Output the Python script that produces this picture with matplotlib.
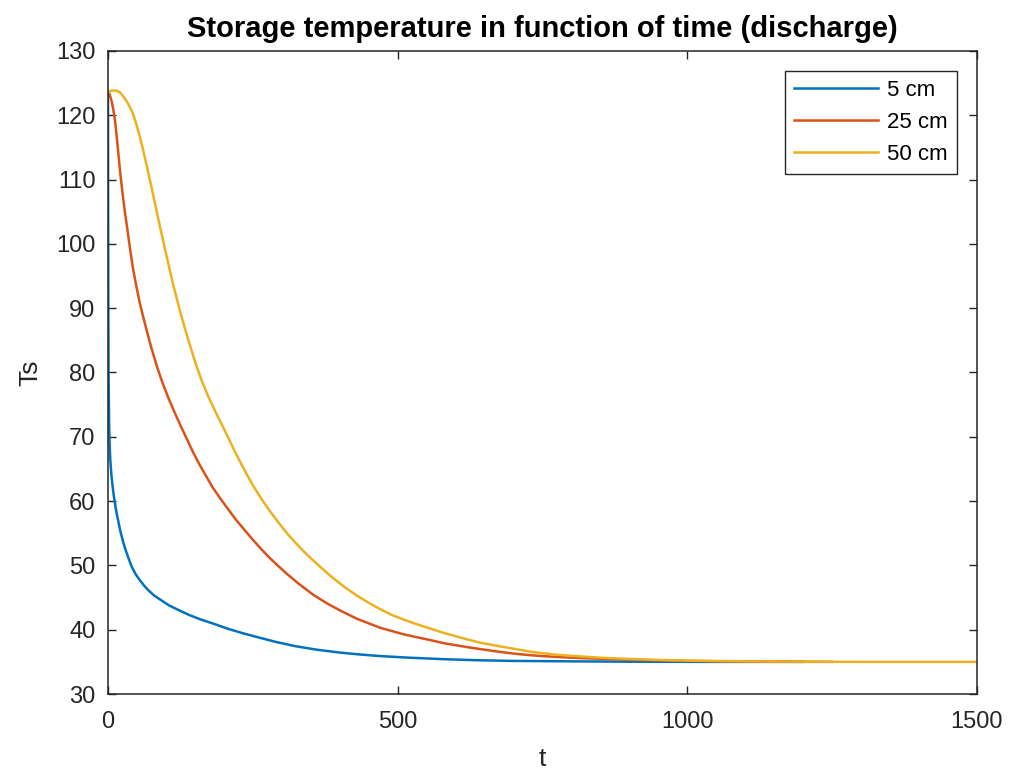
import numpy as np
import matplotlib
matplotlib.use("Agg")
import matplotlib.pyplot as plt

# MATLAB-like default palette
BLUE = "#0072BD"
ORANGE = "#D95319"
YELLOW = "#EDB120"
DARK = "#262626"

plt.rcParams["font.family"] = ["Liberation Sans", "DejaVu Sans"]

# 5 cm
t_5 = [0, 0.5, 1, 2, 3, 4, 6, 8, 10, 12, 15, 18, 21, 24, 28, 32, 36, 41, 48,
       55, 62, 69, 80, 90, 105, 121, 140, 160, 185, 207, 235, 260, 290, 323,
       360, 400, 435, 470, 520, 585, 640, 700, 800, 930, 1050, 1200]
ts_5 = [123.7, 93, 80, 72, 68.5, 66.4, 64, 62.3, 60.9, 59.7, 58.1, 56.8, 55.5,
        54.4, 53.1, 52, 51, 49.8, 48.6, 47.7, 46.9, 46.2, 45.3, 44.7, 43.8,
        43.1, 42.3, 41.6, 40.85, 40.15, 39.4, 38.8, 38.1, 37.45, 36.9, 36.45,
        36.15, 35.9, 35.65, 35.4, 35.25, 35.15, 35.08, 35.02, 35.0, 35.0]

# 25 cm
t_25 = [0, 3, 6, 9, 12, 15, 18, 21, 25, 29, 33, 38, 43, 49, 55, 61, 67, 75,
        85, 95, 105, 115, 125, 136, 147, 158, 170, 181, 194, 207, 221, 235,
        250, 265, 280, 293, 310, 330, 355, 380, 405, 430, 450, 470, 490, 510,
        535, 556, 580, 600, 620, 642, 665, 690, 710, 728, 750, 770, 790, 815,
        860, 900, 950, 1000, 1050, 1100, 1170, 1250]
ts_25 = [123.7, 123.2, 122.3, 121, 119.3, 116.8, 114, 111.2, 108, 105.1,
         102.6, 99.3, 96.3, 93.4, 90.8, 88.6, 86.5, 83.8, 80.8, 78.2, 75.9,
         73.8, 71.8, 69.7, 67.6, 65.7, 63.8, 62.1, 60.4, 58.8, 57.1, 55.6,
         54.0, 52.5, 51.1, 50.0, 48.6, 47.1, 45.4, 44.0, 42.8, 41.7, 41.0,
         40.3, 39.8, 39.3, 38.8, 38.4, 37.9, 37.6, 37.3, 37.0, 36.7, 36.4,
         36.2, 36.05, 35.9, 35.8, 35.7, 35.6, 35.45, 35.35, 35.25, 35.15,
         35.1, 35.05, 35.02, 35.0]

# 50 cm
t_50 = [0, 5, 10, 15, 20, 25, 30, 36, 43, 49, 55, 61, 67, 73, 78, 84, 90, 96,
        101, 107, 112, 119, 126, 134, 141, 151, 162, 173, 185, 196, 207, 218,
        230, 240, 250, 266, 280, 295, 310, 323, 340, 360, 385, 409, 430, 450,
        470, 490, 510, 535, 556, 580, 600, 620, 642, 665, 690, 710, 728, 750,
        770, 790, 815, 850, 900, 950, 1000, 1050, 1100, 1200, 1300, 1400, 1500]
ts_50 = [123.6, 123.8, 123.85, 123.8, 123.6, 123.1, 122.5, 121.6, 120.3,
         118.6, 116.7, 114.5, 112.1, 109.7, 107.6, 105.1, 102.6, 100.2, 98.2,
         95.8, 93.9, 91.4, 89.0, 86.5, 84.4, 81.5, 78.7, 76.3, 74.0, 72.0,
         70.0, 67.9, 65.8, 64.1, 62.5, 60.2, 58.4, 56.6, 54.9, 53.6, 52.0,
         50.3, 48.3, 46.6, 45.3, 44.2, 43.2, 42.3, 41.6, 40.8, 40.2, 39.5,
         39.0, 38.5, 38.0, 37.6, 37.2, 36.9, 36.6, 36.35, 36.15, 36.0, 35.85,
         35.65, 35.45, 35.3, 35.2, 35.13, 35.08, 35.03, 35.0, 35.0, 35.0]

x_ticks = [0, 500, 1000, 1500]
y_ticks = [30, 40, 50, 60, 70, 80, 90, 100, 110, 120, 130]

fig = plt.figure(figsize=(10.09, 7.72), dpi=100)
fig.patch.set_facecolor("white")
ax = fig.add_axes([0.107, 0.101, 0.861, 0.833])

ax.plot(t_5, ts_5, color=BLUE, lw=1.8, label="5 cm")
ax.plot(t_25, ts_25, color=ORANGE, lw=1.8, label="25 cm")
ax.plot(t_50, ts_50, color=YELLOW, lw=1.8, label="50 cm")

ax.set_xlim(0, 1500)
ax.set_ylim(30, 130)
ax.set_xticks(x_ticks)
ax.set_yticks(y_ticks)
ax.tick_params(direction="in", length=6, width=1, colors=DARK, labelsize=17,
               top=True, right=True)
ax.tick_params(axis="x", pad=12)
ax.tick_params(axis="y", pad=9)
for sp in ax.spines.values():
    sp.set_color(DARK)
    sp.set_linewidth(1.1)

ax.set_title("Storage temperature in function of time (discharge)",
             fontsize=21, fontweight="bold", color="black", pad=10)
ax.set_xlabel("t", fontsize=19, color=DARK, labelpad=10)
ax.set_ylabel("Ts", fontsize=19, color=DARK, labelpad=10)

leg = ax.legend(loc="upper right", fontsize=16, fancybox=False, framealpha=1,
                edgecolor=DARK, borderaxespad=0.9, handlelength=3.8,
                handletextpad=0.4, borderpad=0.4, labelspacing=0.5)
leg.get_frame().set_linewidth(1.0)

fig.savefig("out.png", dpi=100, facecolor="white")
